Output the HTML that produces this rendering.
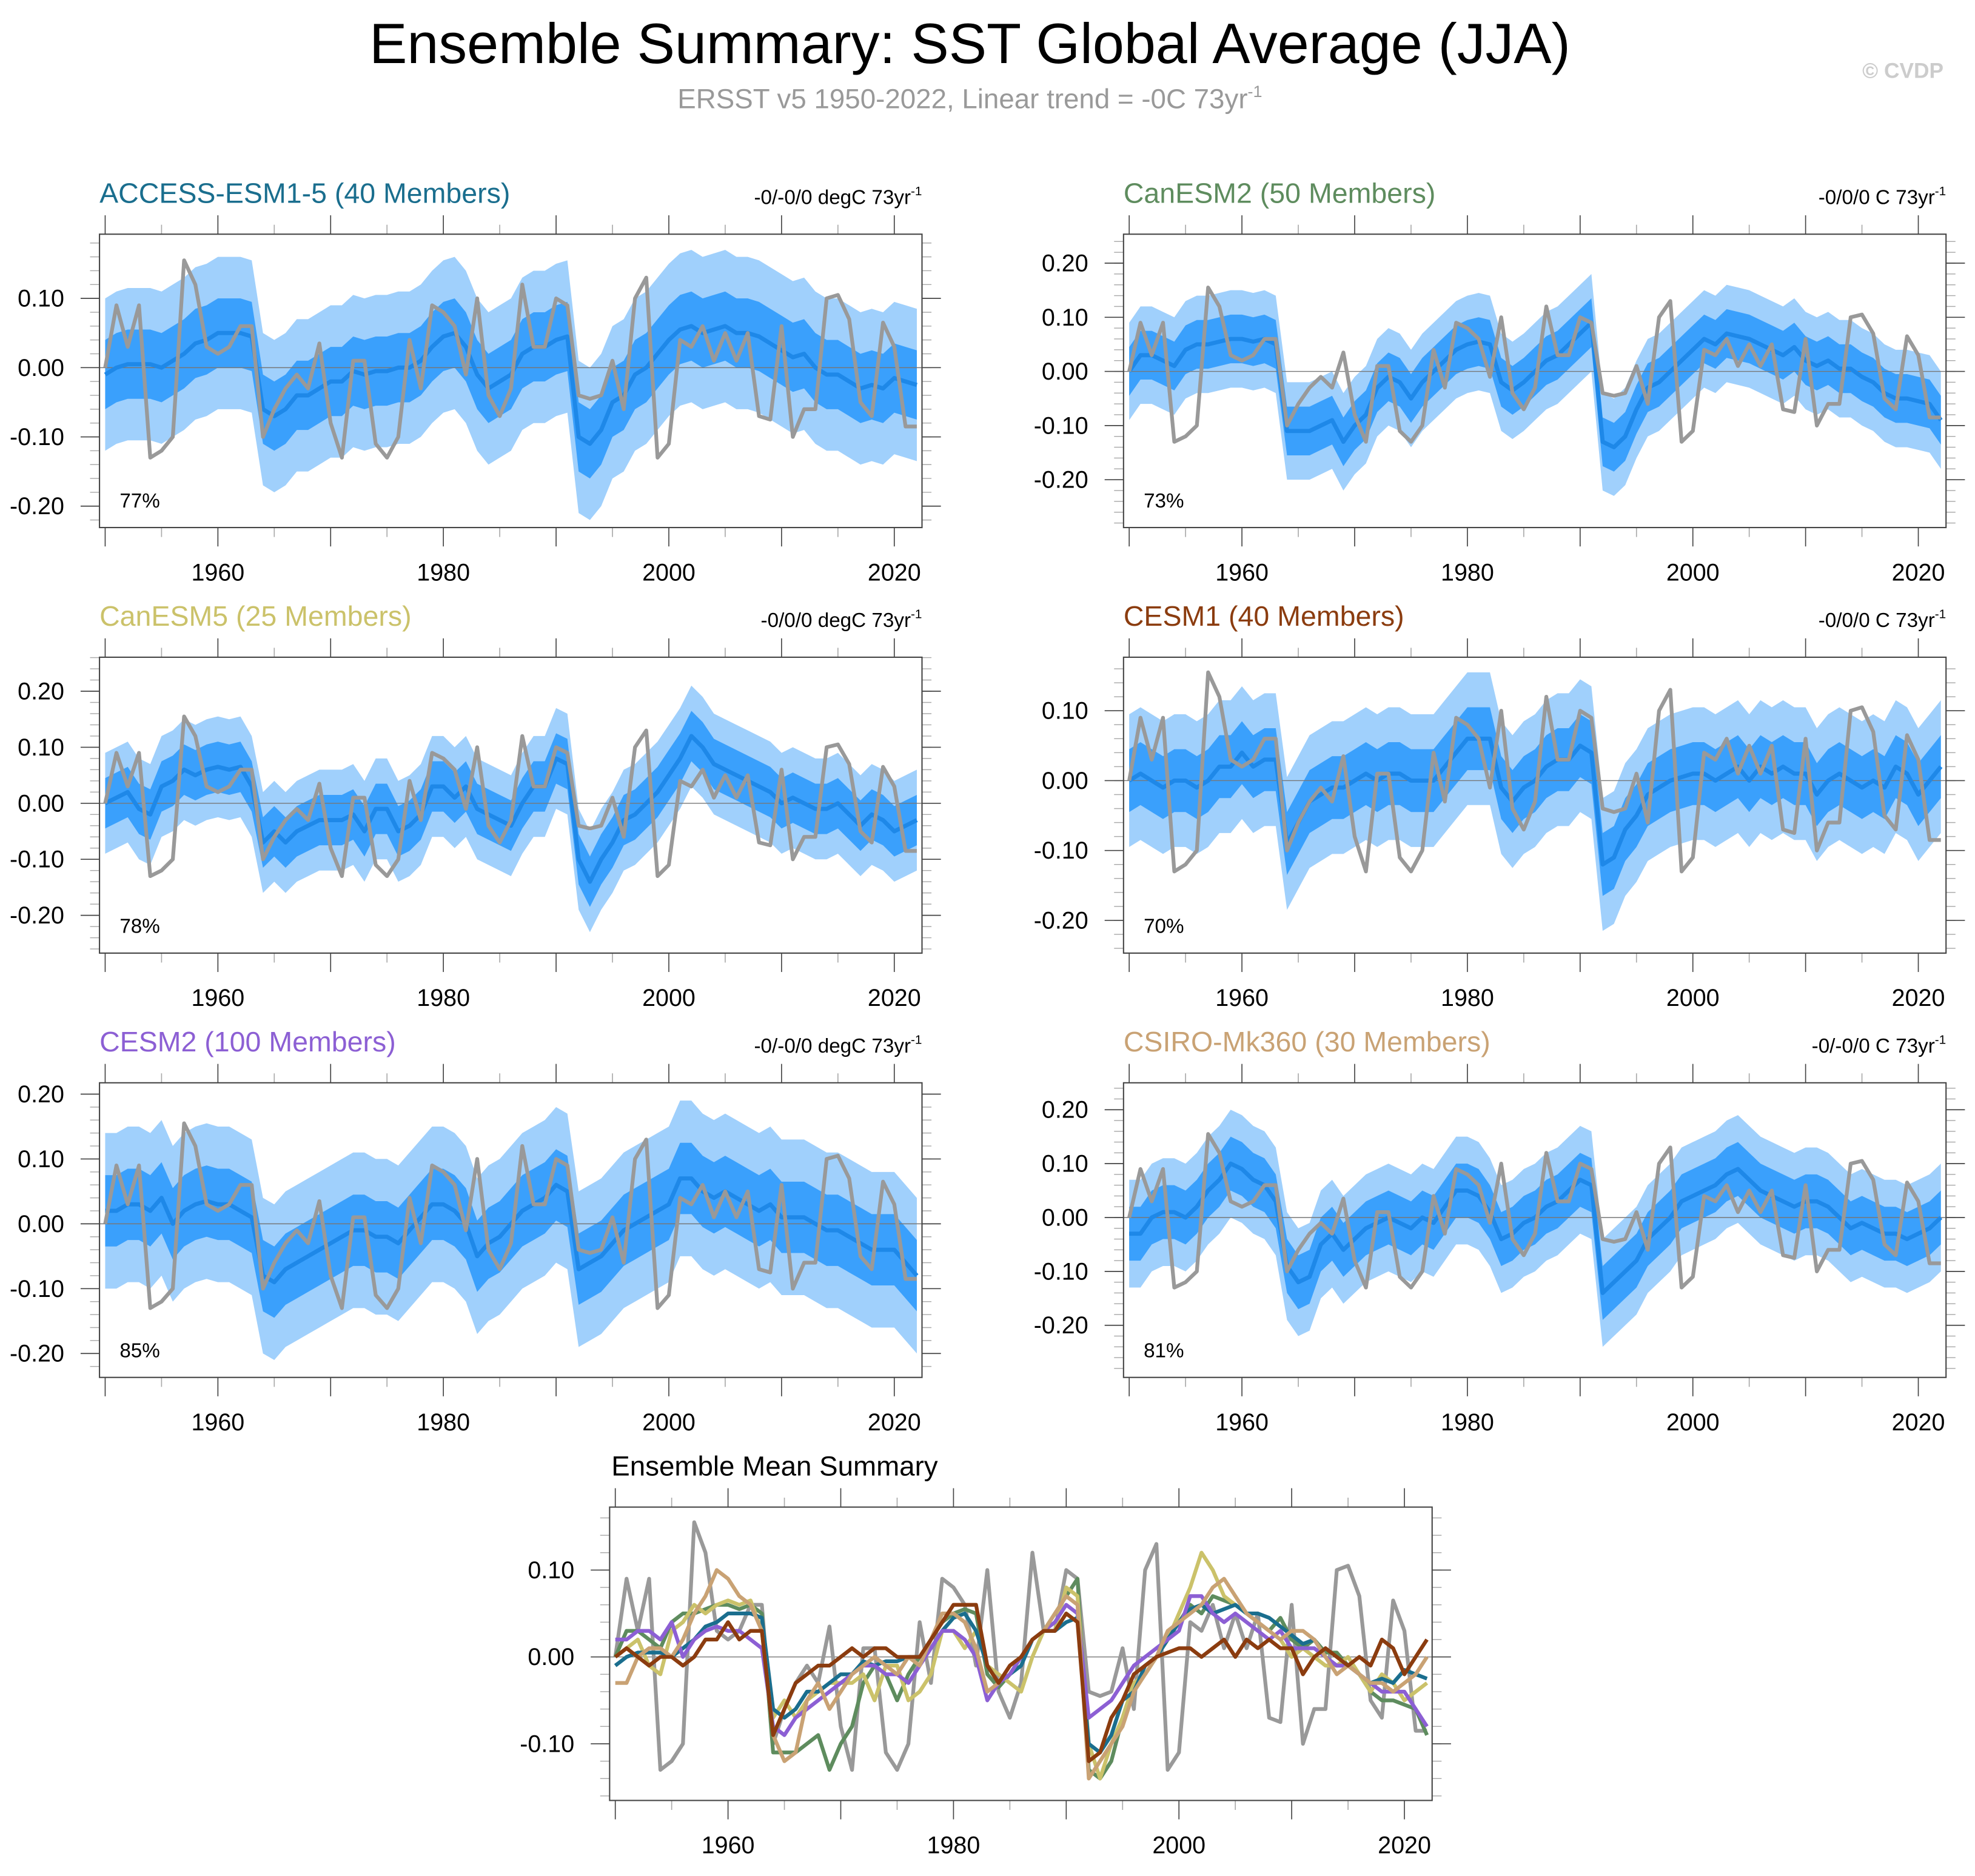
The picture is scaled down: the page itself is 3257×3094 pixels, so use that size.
<!DOCTYPE html>
<html><head><meta charset="utf-8"><style>
html,body{margin:0;padding:0;background:#fff;}
svg{display:block;font-family:"Liberation Sans",sans-serif;}
</style></head><body>
<svg id="chart" width="3257" height="3094" viewBox="0 0 1568 1490" preserveAspectRatio="none" xmlns="http://www.w3.org/2000/svg">
<text x="770" y="50" font-size="45" text-anchor="middle" fill="#000">Ensemble Summary: SST Global Average (JJA)</text>
<text x="770" y="86" font-size="22" text-anchor="middle" fill="#999">ERSST v5 1950-2022, Linear trend = -0C 73yr<tspan dy="-9" font-size="13">-1</tspan></text>
<text x="1543" y="62" font-size="17" font-weight="bold" text-anchor="end" fill="#ccc">© CVDP</text>
<text x="615" y="1172" font-size="22" text-anchor="middle" fill="#000">Ensemble Mean Summary</text>
</svg>
<script>
const years = []; for (let y = 1950; y <= 2022; y++) years.push(y);
const obs = [0.0,0.09,0.03,0.09,-0.13,-0.12,-0.10,0.155,0.12,0.03,0.02,0.03,0.06,0.06,-0.10,-0.06,-0.03,-0.01,-0.03,0.035,-0.08,-0.13,0.01,0.01,-0.11,-0.13,-0.10,0.04,-0.03,0.09,0.08,0.06,-0.01,0.10,-0.04,-0.07,-0.03,0.12,0.03,0.03,0.10,0.09,-0.04,-0.045,-0.04,0.01,-0.06,0.10,0.13,-0.13,-0.11,0.04,0.03,0.06,0.01,0.05,0.01,0.05,-0.07,-0.075,0.06,-0.10,-0.06,-0.06,0.10,0.105,0.07,-0.05,-0.07,0.065,0.03,-0.085,-0.085];
const meanACCESS = [-0.01,0.0,0.005,0.005,0.005,0.0,0.01,0.02,0.035,0.04,0.05,0.05,0.05,0.045,-0.06,-0.07,-0.06,-0.04,-0.04,-0.03,-0.02,-0.02,-0.005,-0.01,-0.005,-0.005,0.0,0.0,0.01,0.03,0.045,0.05,0.03,-0.01,-0.03,-0.02,-0.01,0.02,0.03,0.03,0.04,0.045,-0.10,-0.11,-0.09,-0.05,-0.04,-0.01,0.0,0.02,0.04,0.055,0.06,0.05,0.055,0.06,0.05,0.05,0.045,0.035,0.025,0.015,0.02,0.0,-0.01,-0.01,-0.02,-0.03,-0.025,-0.03,-0.015,-0.02,-0.025];
const meanCanESM2 = [0.0,0.03,0.03,0.02,0.01,0.04,0.05,0.05,0.055,0.06,0.06,0.055,0.06,0.05,-0.11,-0.11,-0.11,-0.10,-0.09,-0.13,-0.10,-0.08,-0.03,-0.01,-0.02,-0.05,-0.02,0.0,0.02,0.04,0.05,0.055,0.05,-0.02,-0.035,-0.02,0.0,0.02,0.03,0.05,0.07,0.09,-0.13,-0.14,-0.12,-0.07,-0.03,-0.02,0.0,0.02,0.04,0.06,0.05,0.07,0.065,0.06,0.05,0.04,0.03,0.045,0.02,0.01,0.02,0.005,0.005,-0.01,-0.02,-0.04,-0.05,-0.05,-0.055,-0.06,-0.09];
const meanCanESM5 = [0.0,0.01,0.02,-0.01,-0.02,0.03,0.04,0.06,0.05,0.06,0.065,0.06,0.065,0.03,-0.07,-0.05,-0.07,-0.05,-0.04,-0.03,-0.03,-0.03,-0.02,-0.05,-0.01,-0.01,-0.05,-0.04,-0.02,0.03,0.03,0.01,0.03,-0.01,-0.02,-0.03,-0.04,0.0,0.03,0.03,0.08,0.07,-0.10,-0.14,-0.10,-0.07,-0.03,-0.02,0.0,0.02,0.05,0.08,0.12,0.10,0.07,0.06,0.05,0.04,0.03,0.02,0.0,0.01,0.0,-0.01,-0.01,0.0,-0.02,-0.04,-0.02,-0.03,-0.05,-0.04,-0.03];
const meanCESM1 = [0.0,0.01,0.0,-0.01,0.0,0.0,-0.01,0.0,0.02,0.02,0.04,0.02,0.03,0.03,-0.09,-0.06,-0.03,-0.02,-0.01,-0.01,0.0,0.01,0.0,0.01,0.01,0.0,0.0,0.0,0.02,0.04,0.06,0.06,0.06,-0.01,-0.03,-0.01,0.0,0.02,0.03,0.03,0.05,0.04,-0.12,-0.11,-0.07,-0.05,-0.02,-0.01,0.0,0.005,0.01,0.01,0.0,0.01,0.02,0.0,0.02,0.01,0.02,0.01,0.01,-0.02,0.0,0.01,0.0,-0.01,0.0,-0.01,0.02,0.01,-0.02,0.0,0.02];
const meanCESM2 = [0.02,0.02,0.03,0.03,0.02,0.04,0.0,0.02,0.03,0.035,0.03,0.03,0.02,0.01,-0.08,-0.09,-0.07,-0.06,-0.05,-0.04,-0.03,-0.02,-0.01,-0.01,-0.02,-0.02,-0.03,-0.01,0.01,0.03,0.03,0.02,0.0,-0.05,-0.03,-0.02,0.0,0.02,0.03,0.04,0.06,0.05,-0.07,-0.06,-0.05,-0.03,-0.01,0.0,0.01,0.02,0.03,0.07,0.07,0.05,0.04,0.05,0.04,0.03,0.02,0.03,0.01,0.01,0.01,0.0,-0.01,-0.01,-0.02,-0.03,-0.04,-0.04,-0.04,-0.06,-0.08];
const meanCSIRO = [-0.03,-0.03,0.0,0.01,0.01,0.0,0.02,0.05,0.07,0.1,0.09,0.07,0.06,0.03,-0.09,-0.12,-0.11,-0.05,-0.03,-0.06,-0.04,-0.02,-0.01,0.0,-0.01,-0.02,0.0,-0.01,0.02,0.05,0.05,0.04,0.01,-0.04,-0.03,-0.01,0.0,0.02,0.03,0.05,0.07,0.06,-0.14,-0.12,-0.10,-0.08,-0.04,-0.02,0.0,0.03,0.04,0.05,0.06,0.08,0.09,0.07,0.05,0.04,0.03,0.02,0.03,0.03,0.02,0.0,-0.02,-0.01,-0.02,-0.03,-0.03,-0.04,-0.03,-0.02,0.0];
const modelNames = ["ACCESS-ESM1-5 (40 Members)","CanESM2 (50 Members)","CanESM5 (25 Members)","CESM1 (40 Members)","CESM2 (100 Members)","CSIRO-Mk360 (30 Members)"];
const trendLabels = ["-0/-0/0 degC 73yr","-0/0/0 C 73yr","-0/0/0 degC 73yr","-0/0/0 C 73yr","-0/-0/0 degC 73yr","-0/-0/0 C 73yr"];
const pctLabels = ["77%","73%","78%","70%","85%","81%"];
const innerHalf = [0.05,0.045,0.045,0.045,0.055,0.05];
const outerHalf = [0.11,0.09,0.09,0.095,0.12,0.1];
const xTickYears = [1960,1980,2000,2020];
const allMeans = [meanACCESS,meanCanESM2,meanCanESM5,meanCESM1,meanCESM2,meanCSIRO];
const modelColors = ["#1a6e8e","#5e8c5e","#cbc26a","#8b3c0f","#8c5fd4","#c9a274"];

const NS = "http://www.w3.org/2000/svg";
const svg = document.getElementById('chart');
function mk(tag, attrs, parent){ const e=document.createElementNS(NS,tag); for(const k in attrs) e.setAttribute(k,attrs[k]); (parent||svg).appendChild(e); return e; }

const panels = [
 {fx:173,top:186,bot:419,zero:292,k:550,ticks:[0.1,0,-0.1,-0.2]},
 {fx:986,top:186,bot:419,zero:295,k:430,ticks:[0.2,0.1,0,-0.1,-0.2]},
 {fx:173,top:522,bot:757,zero:638,k:445,ticks:[0.2,0.1,0,-0.1,-0.2]},
 {fx:986,top:522,bot:757,zero:620,k:555,ticks:[0.1,0,-0.1,-0.2]},
 {fx:173,top:860,bot:1094,zero:972,k:515,ticks:[0.2,0.1,0,-0.1,-0.2]},
 {fx:986,top:860,bot:1094,zero:967,k:428,ticks:[0.2,0.1,0,-0.1,-0.2]},
 {fx:578,top:1197,bot:1430,zero:1316,k:690,ticks:[0.1,0,-0.1]}
];
const PXY = 8.95;
const frameL = p => p.fx-94, frameR = p => p.fx+559;

function drawAxes(p, g){
  const L=frameL(p), R=frameR(p);
  const xs = yr => p.fx+(yr-1960)*PXY;
  const ys = v => p.zero - v*p.k;
  const z = mk('line',{x1:L,x2:R,y1:ys(0),y2:ys(0),stroke:'#777','stroke-width':0.7},g);
  
  
  const vmin=(p.bot-p.zero)/-p.k, vmax=(p.zero-p.top)/p.k;
  for(let i=Math.ceil(vmin/0.02); i*0.02<=vmax; i++){
    const y=ys(i*0.02);
    mk('line',{x1:L-7.5,x2:L,y1:y,y2:y,stroke:'#aaa','stroke-width':0.7},g);
    mk('line',{x1:R,x2:R+7.5,y1:y,y2:y,stroke:'#aaa','stroke-width':0.7},g);
  }
  p.ticks.forEach(v=>{
    const y=ys(v);
    mk('line',{x1:L-15,x2:L,y1:y,y2:y,stroke:'#444','stroke-width':0.8},g);
    mk('line',{x1:R,x2:R+15,y1:y,y2:y,stroke:'#444','stroke-width':0.8},g);
    const t=mk('text',{x:L-28,y:y+6.5,'font-size':19,'text-anchor':'end'},g);
    t.textContent=v.toFixed(2);
    
    
  });
  for(let yr=1950; yr<=2022; yr+=5){
    const x=xs(yr), maj=(yr%10===0);
    const l=maj?15:7.5, c=maj?'#444':'#aaa';
    mk('line',{x1:x,x2:x,y1:p.bot,y2:p.bot+l,stroke:c,'stroke-width':0.8},g);
    mk('line',{x1:x,x2:x,y1:p.top-l,y2:p.top,stroke:c,'stroke-width':0.8},g);
  }
  xTickYears.forEach(yr=>{
    const t=mk('text',{x:xs(yr),y:p.bot+42,'font-size':19,'text-anchor':'middle'},g);
    t.textContent=yr;
    
    
  });
  const f=mk('rect',{x:L,y:p.top,width:R-L,height:p.bot-p.top,fill:'none',stroke:'#444','stroke-width':1},g);
  
  
  return {xs,ys,L,R};
}
function linePath(arr,xs,ys){ return arr.map((v,i)=>(i?'L':'M')+xs(years[i]).toFixed(2)+','+ys(v).toFixed(2)).join(''); }
function bandPath(arr,h,xs,ys){
  let d=arr.map((v,i)=>(i?'L':'M')+xs(years[i]).toFixed(2)+','+ys(v+h).toFixed(2)).join('');
  for(let i=arr.length-1;i>=0;i--) d+='L'+xs(years[i]).toFixed(2)+','+ys(arr[i]-h).toFixed(2);
  return d+'Z';
}

for(let m=0;m<6;m++){
  const p=panels[m];
  const g=mk('g',{});
  
  
  const L=frameL(p), R=frameR(p);
  const cp=mk('clipPath',{id:'cp'+m},g);
  mk('rect',{x:L,y:p.top,width:R-L,height:p.bot-p.top},cp);
  const xs = yr => p.fx+(yr-1960)*PXY;
  const ys = v => p.zero - v*p.k;
  const dg=mk('g',{'clip-path':'url(#cp'+m+')'},g);
  const ob=mk('path',{d:bandPath(allMeans[m],outerHalf[m],xs,ys),fill:'#a0d0fc',stroke:'none'},dg);
  
  
  const ib=mk('path',{d:bandPath(allMeans[m],innerHalf[m],xs,ys),fill:'#3aa0fc',stroke:'none'},dg);
  
  
  drawAxes(p,g);
  const ml=mk('path',{d:linePath(allMeans[m],xs,ys),fill:'none',stroke:'#1e88e8','stroke-width':3.3,'stroke-linejoin':'round'},g);
  
  
  const ol=mk('path',{d:linePath(obs,xs,ys),fill:'none',stroke:'#999','stroke-width':3,'stroke-linejoin':'round'},g);
  
  
  const tt=mk('text',{x:L,y:p.top-25,'font-size':22.4,fill:modelColors[m]},g);
  tt.textContent=modelNames[m];
  
  
  const tr=mk('text',{x:R,y:p.top-24,'font-size':16,'text-anchor':'end'},g);
  tr.textContent=trendLabels[m];
  const sup=mk('tspan',{dy:-7,'font-size':10},tr); sup.textContent='-1';
  
  
  const pc=mk('text',{x:L+16,y:p.bot-16,'font-size':16},g);
  pc.textContent=pctLabels[m];
  
  
}
{
  const p=panels[6];
  const g=mk('g',{});
  
  
  const a=drawAxes(p,g);
  const ol=mk('path',{d:linePath(obs,a.xs,a.ys),fill:'none',stroke:'#999','stroke-width':3,'stroke-linejoin':'round'},g);
  
  
  const order=[1,2,0,4,5,3];
  order.forEach(m=>{
    const l=mk('path',{d:linePath(allMeans[m],a.xs,a.ys),fill:'none',stroke:modelColors[m],'stroke-width':3,'stroke-linejoin':'round'},g);
    
    
  });
}
</script>
</body></html>
